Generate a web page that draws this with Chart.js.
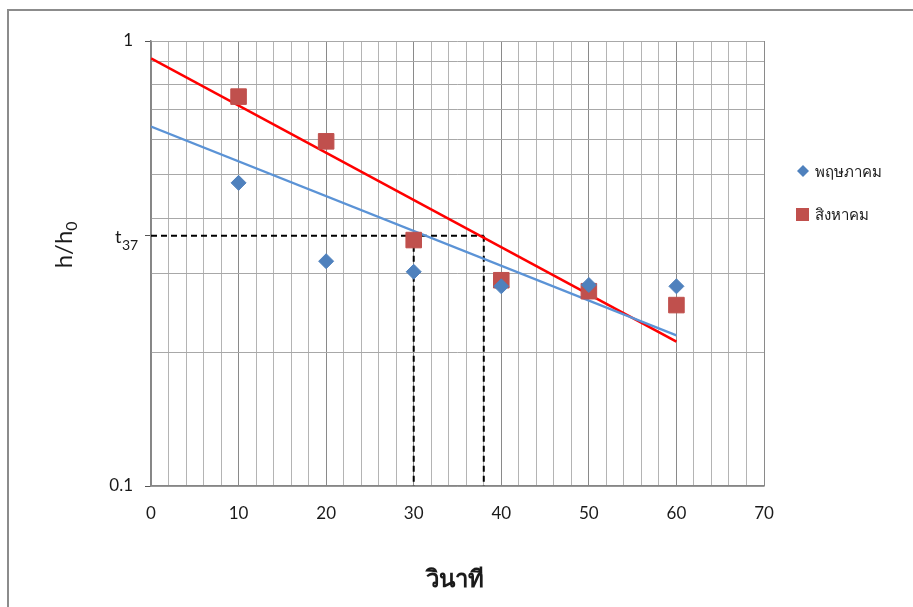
<!DOCTYPE html>
<html>
<head>
<meta charset="utf-8">
<script src="https://cdn.jsdelivr.net/npm/chart.js@4.4.1/dist/chart.umd.min.js"></script>
<style>
  html, body { margin: 0; padding: 0; background: #fff; }
  #wrap { position: relative; width: 913px; height: 607px; }
  #frame { position: absolute; left: 7px; top: 9px; right: -5px; bottom: -5px;
           border-left: 2px solid #8c8c8c; border-top: 2px solid #8c8c8c; pointer-events: none; }
</style>
</head>
<body>
<div id="wrap">
  <canvas id="decayChart" width="913" height="607"></canvas>
  <div id="frame"></div>
</div>
<script>
// measured points (seconds vs h/h0)
const times = [10, 20, 30, 40, 50, 60];
const mayValues = [0.48, 0.32, 0.303, 0.281, 0.283, 0.281];
const augValues = [0.75, 0.595, 0.357, 0.29, 0.274, 0.255];

// exponential trend lines, end points
const trendTimes = [0, 60];
const mayTrend = [0.642, 0.218];
const augTrend = [0.914, 0.211];

// t37 construction lines
const t37Level = 0.365;
const t37Times = [30, 38];

const seriesNames = ["พฤษภาคม", "สิงหาคม"];
const yTickValues = [0.1, 0.2, 0.3, 0.4, 0.5, 0.6, 0.7, 0.8, 0.9, 1];

const FONT = "Lato, 'Open Sans', sans-serif";
const BLUE = "#4f81bd";
const RED = "#c0504d";

function pts(xs, ys) {
  return xs.map((x, i) => ({ x: x, y: ys[i] }));
}

const dashStyle = {
  showLine: true, borderColor: "#000", borderWidth: 2, borderDash: [6, 4],
  pointRadius: 0, fill: false
};

const datasets = [
  { label: seriesNames[0], data: pts(times, mayValues), backgroundColor: BLUE, borderColor: BLUE,
    pointStyle: "rectRot", pointRadius: 7.5, pointHoverRadius: 7.5, showLine: false },
  { label: seriesNames[1], data: pts(times, augValues), backgroundColor: RED, borderColor: RED,
    pointStyle: "rect", pointRadius: 11, pointHoverRadius: 11, showLine: false },
  { label: "trend1", data: pts(trendTimes, mayTrend), showLine: true, borderColor: "#5b93d6",
    borderWidth: 2.2, pointRadius: 0 },
  { label: "trend2", data: pts(trendTimes, augTrend), showLine: true, borderColor: "#ff0000",
    borderWidth: 2.6, pointRadius: 0 },
  Object.assign({ label: "h37", data: [{ x: 0, y: t37Level }, { x: t37Times[1], y: t37Level }] }, dashStyle),
  Object.assign({ label: "v30", data: [{ x: t37Times[0], y: t37Level }, { x: t37Times[0], y: 0.1 }] }, dashStyle),
  Object.assign({ label: "v38", data: [{ x: t37Times[1], y: t37Level }, { x: t37Times[1], y: 0.1 }] }, dashStyle)
];

// extra text: axis titles, t37 label, legend
const annotate = {
  id: "annotate",
  afterDraw(chart) {
    const ctx = chart.ctx;
    const y = chart.scales.y;
    ctx.save();
    ctx.fillStyle = "#1a1a1a";

    // t37 label
    const ty = y.getPixelForValue(t37Level);
    ctx.font = "18px " + FONT;
    ctx.textBaseline = "middle";
    ctx.textAlign = "left";
    ctx.fillText("t", 115, ty + 1);
    ctx.font = "14px " + FONT;
    ctx.fillText("37", 122, ty + 10);

    // y title h/h0
    ctx.translate(64, 245);
    ctx.rotate(-Math.PI / 2);
    ctx.font = "24px " + FONT;
    ctx.textAlign = "left";
    ctx.textBaseline = "middle";
    const w = ctx.measureText("h/h").width;
    const start = -(w + 9) / 2;
    ctx.fillText("h/h", start, 0);
    ctx.font = "16px " + FONT;
    ctx.fillText("0", start + w, 8);
    ctx.restore();

    ctx.save();
    ctx.fillStyle = "#1a1a1a";
    ctx.font = "bold 24px " + FONT;
    ctx.textAlign = "center";
    ctx.textBaseline = "middle";
    ctx.fillText("วินาที", 455, 579);

    // legend
    ctx.font = "15px " + FONT;
    ctx.textAlign = "left";
    ctx.fillStyle = BLUE;
    ctx.beginPath();
    ctx.moveTo(803, 165); ctx.lineTo(809, 171); ctx.lineTo(803, 177); ctx.lineTo(797, 171);
    ctx.closePath(); ctx.fill();
    ctx.fillStyle = RED;
    ctx.fillRect(796, 208, 13, 13);
    ctx.fillStyle = "#1a1a1a";
    ctx.fillText(seriesNames[0], 815, 172);
    ctx.fillText(seriesNames[1], 815, 215);
    ctx.restore();
  }
};

new Chart(document.getElementById("decayChart"), {
  type: "scatter",
  data: { datasets: datasets },
  options: {
    responsive: false,
    animation: false,
    layout: { padding: { left: 91, right: 149, top: 41, bottom: 81 } },
    plugins: { legend: { display: false }, tooltip: { enabled: false } },
    scales: {
      x: {
        type: "linear", min: 0, max: 70,
        afterFit: s => { s.height = 40; },
        ticks: {
          stepSize: 2, autoSkip: false, maxRotation: 0, padding: 17,
          color: "#1a1a1a", font: { family: FONT, size: 17 },
          callback: v => (v % 10 === 0 ? String(v) : "")
        },
        grid: {
          color: c => (c.tick && c.tick.value % 10 === 0 ? "#8a8a8a" : "#b4b4b4"),
          lineWidth: 1, drawTicks: false
        },
        border: { color: "#868686", width: 1.5 }
      },
      y: {
        type: "logarithmic", min: 0.1, max: 1,
        afterFit: s => { s.width = 60; },
        afterBuildTicks: s => {
          s.ticks = yTickValues.concat([t37Level]).map(v => ({ value: v }));
        },
        ticks: {
          autoSkip: false, padding: 12,
          color: "#1a1a1a", font: { family: FONT, size: 17 },
          callback: v => (v === 1 ? "1" : v === 0.1 ? "0.1" : "")
        },
        grid: {
          color: c => (c.tick && c.tick.value === t37Level ? "rgba(0,0,0,0)" : "#a8a8a8"),
          tickColor: c => (c.tick && (c.tick.value === 1 || c.tick.value === 0.1 || c.tick.value === t37Level) ? "#555" : "rgba(0,0,0,0)"),
          tickLength: 6, lineWidth: 1
        },
        border: { color: "#868686", width: 1.5 }
      }
    }
  },
  plugins: [annotate]
});
</script>
</body>
</html>
